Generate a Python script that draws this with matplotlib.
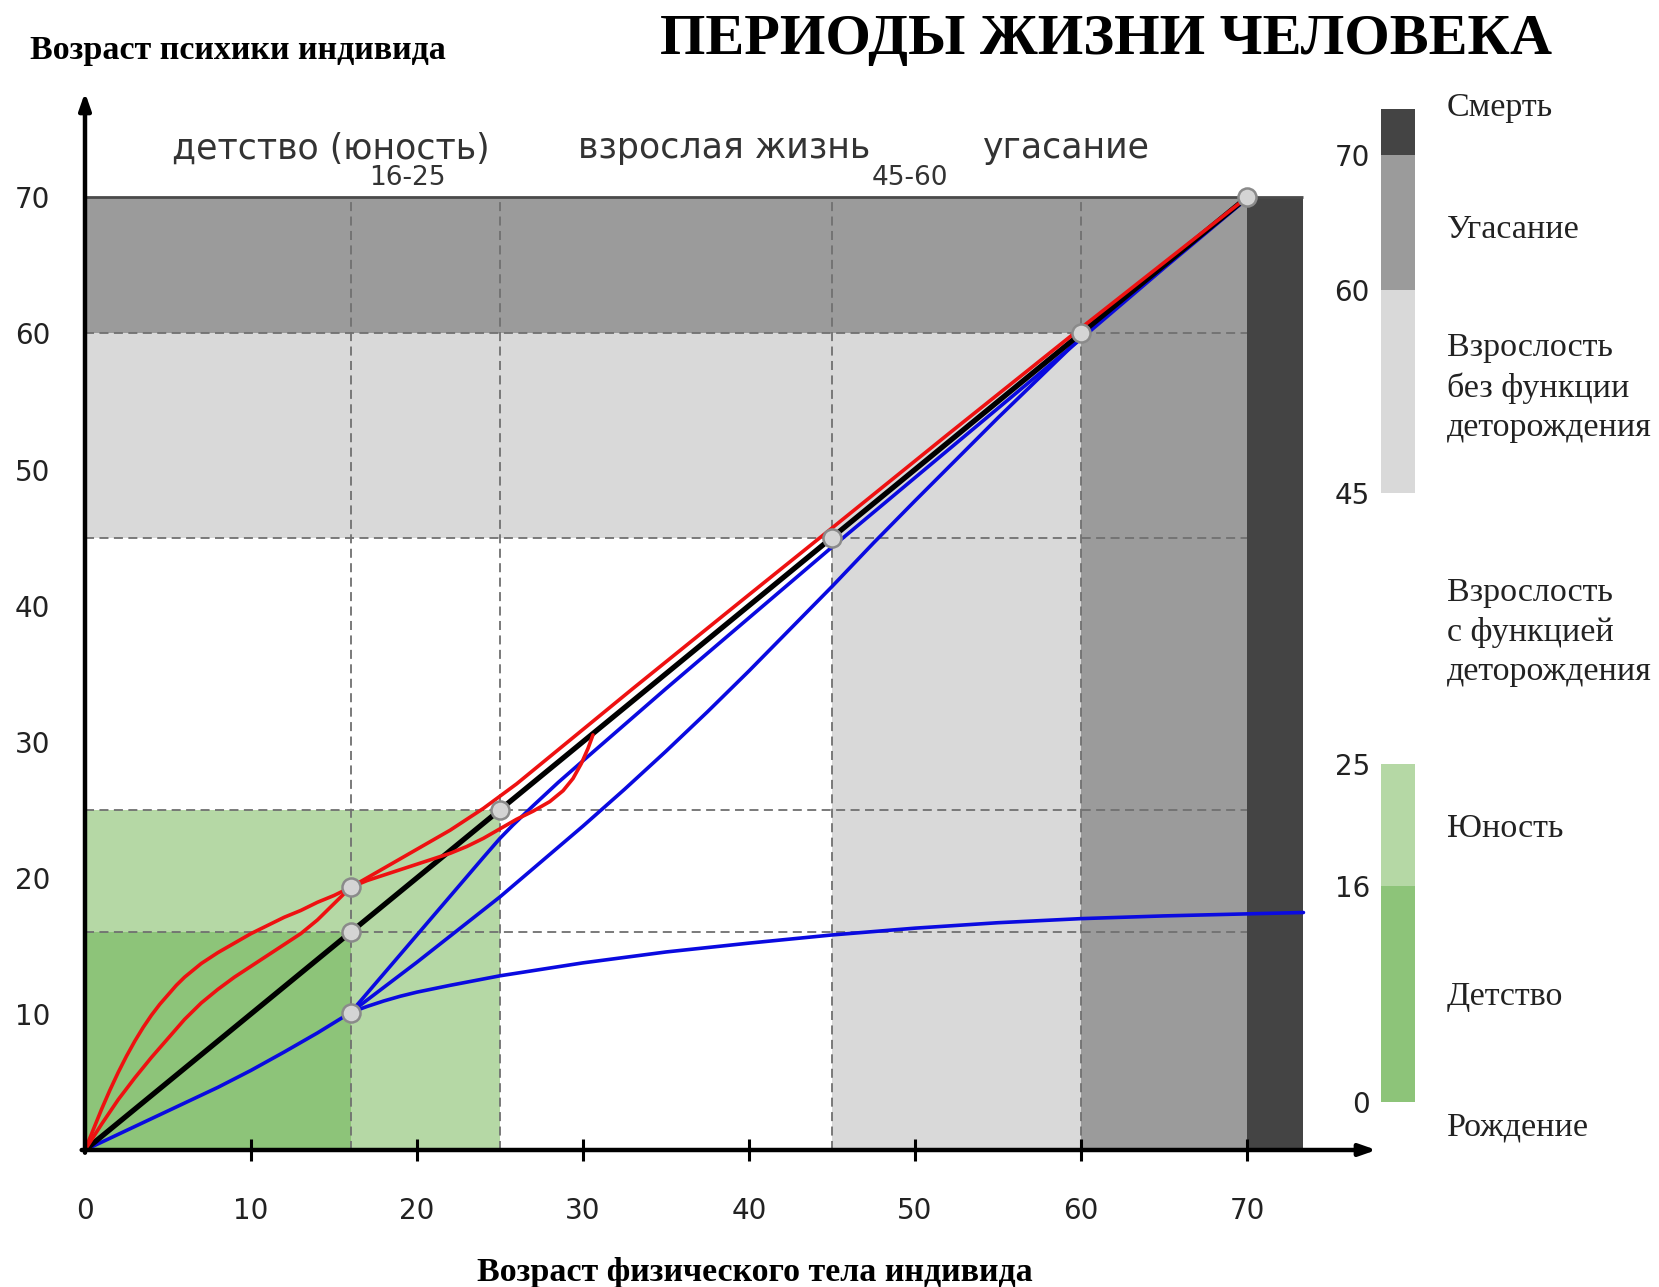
import matplotlib
matplotlib.use("Agg")
import matplotlib.pyplot as plt
from matplotlib.transforms import blended_transform_factory

# ---------------- data ----------------
zone_bounds = [0, 16, 25, 45, 60, 70]
zone_colors = ["#8dc479", "#b5d8a5", "#ffffff", "#d9d9d9", "#9b9b9b"]
death_start, death_end = 70, 73.4
death_color = "#444444"

grid_lines = [16, 25, 45, 60]

x_ticks = [0, 10, 20, 30, 40, 50, 60, 70]
y_ticks = [10, 20, 30, 40, 50, 60, 70]

black_x = [0, 70]
black_y = [0, 70]

red1_x = [0, 0.5, 1, 1.5, 2, 2.5, 3, 3.5, 4, 4.5, 5, 5.5, 6, 7, 8, 9, 10, 11, 12, 13, 14, 15, 16,
          17, 18, 19, 20, 21, 22, 23, 24, 25, 26, 27, 28, 30, 33, 40, 45, 52, 60, 70]
red1_y = [0, 1.5, 3.0, 4.4, 5.7, 6.9, 8.0, 9.0, 9.9, 10.7, 11.4, 12.1, 12.7, 13.7, 14.5, 15.2,
          15.9, 16.5, 17.1, 17.6, 18.2, 18.7, 19.3,
          20.0, 20.7, 21.4, 22.1, 22.8, 23.5, 24.3, 25.1, 26.0, 26.9, 27.9, 28.9, 30.9, 33.9,
          40.8, 45.7, 52.6, 60.4, 70]

red2_x = [0, 1, 2, 3, 4, 5, 6, 7, 8, 9, 10, 11, 12, 13, 14, 15, 16,
          17, 18, 19, 20, 21, 22, 23, 24, 25, 26, 27, 28, 28.8, 29.4, 29.9, 30.3, 30.6]
red2_y = [0, 1.9, 3.7, 5.3, 6.8, 8.2, 9.6, 10.8, 11.8, 12.7, 13.5, 14.3, 15.1, 15.9, 16.9,
          18.1, 19.3,
          19.8, 20.2, 20.6, 21.0, 21.4, 21.8, 22.3, 22.9, 23.6, 24.3, 24.9, 25.6, 26.4, 27.3,
          28.4, 29.5, 30.5]

blue_base_x = [0, 2, 4, 6, 8, 10, 12, 14, 16]
blue_base_y = [0, 1.15, 2.3, 3.45, 4.6, 5.85, 7.2, 8.6, 10.1]

blue_flat_x = [16, 17, 18, 19, 20, 22, 25, 30, 35, 40, 45, 50, 55, 60, 65, 70, 73.4]
blue_flat_y = [10.1, 10.55, 10.95, 11.3, 11.6, 12.1, 12.8, 13.75, 14.55, 15.2, 15.8, 16.3,
               16.7, 17.0, 17.2, 17.35, 17.45]

blue_steep_x = [16, 20, 24, 25, 25.8, 27, 28.5, 30, 35, 40, 45, 50, 55, 60, 65, 70]
blue_steep_y = [10.1, 15.8, 21.5, 22.9, 23.9, 25.3, 27.0, 28.6, 33.9, 39.1, 44.3, 49.4,
                54.5, 59.6, 64.8, 69.9]

blue_mid_x = [16, 18, 20, 22.5, 25, 27.5, 30, 32.5, 35, 37.5, 40, 42.5, 45, 47.5, 50, 55, 60]
blue_mid_y = [10.1, 11.95, 13.8, 16.2, 18.6, 21.2, 23.8, 26.5, 29.3, 32.2, 35.2, 38.3, 41.4,
              44.6, 47.7, 53.8, 59.7]

points_x = [16, 16, 16, 25, 45, 60, 70]
points_y = [19.3, 16, 10.1, 25, 45, 60, 70]

period_labels = ["детство (юность)", "взрослая жизнь", "угасание"]
period_x = [14.8, 38.5, 59.1]
period_sub = ["16-25", "45-60"]
period_sub_x = [19.4, 49.7]

bar_bounds = [0, 16, 25, 45, 60, 70, 73.4]
bar_colors = ["#8dc479", "#b5d8a5", "#ffffff", "#d9d9d9", "#9b9b9b", "#444444"]
bar_ticks = [0, 16, 25, 45, 60, 70]
bar_labels = ["Смерть", "Угасание", "Взрослость\nбез функции\nдеторождения",
              "Взрослость\nс функцией\nдеторождения", "Юность", "Детство", "Рождение"]
bar_label_y = [73.5, 64.5, 52.8, 34.7, 20.2, 7.8, -1.9]

title = "ПЕРИОДЫ ЖИЗНИ ЧЕЛОВЕКА"
ylabel = "Возраст психики индивида"
xlabel = "Возраст физического тела индивида"

# ---------------- figure ----------------
W, H = 1659, 1287
fig = plt.figure(figsize=(W / 100, H / 100), dpi=100)

x0px, xunit = 85, 16.6
y0px, yunit = 1150, 13.61
xmin, xmax = -5, 80
ymin, ymax = -6, 80
left = (x0px + xmin * xunit) / W
width = (xmax - xmin) * xunit / W
bottom = (H - (y0px - ymin * yunit)) / H
height = (ymax - ymin) * yunit / H
ax = fig.add_axes([left, bottom, width, height])
ax.set_xlim(xmin, xmax)
ax.set_ylim(ymin, ymax)
ax.patch.set_alpha(0)

# background zones (max(x, y) metric), outermost first
for i in range(len(zone_colors) - 1, -1, -1):
    b = zone_bounds[i + 1]
    ax.bar([0], [b], width=b, align="edge", color=zone_colors[i], zorder=0, linewidth=0)
ax.bar([death_start], [zone_bounds[-1]], width=death_end - death_start, align="edge",
       color=death_color, zorder=0, linewidth=0)
ax.hlines(zone_bounds[-1], 0, death_end, color="#4a4a4a", lw=2.0, zorder=0.5)

# dashed grid
for g in grid_lines:
    ax.plot([g, g], [0, zone_bounds[-1]], color="#707070", lw=1.3, ls=(0, (5, 3)), zorder=1)
    ax.plot([0, zone_bounds[-1]], [g, g], color="#707070", lw=1.3, ls=(0, (5, 3)), zorder=1)

# curves
blue = "#0a0ae0"
red = "#ee1111"
lwc = 2.6
for xs, ys in [(blue_base_x, blue_base_y), (blue_flat_x, blue_flat_y),
               (blue_steep_x, blue_steep_y), (blue_mid_x, blue_mid_y)]:
    ax.plot(xs, ys, color=blue, lw=lwc, zorder=3, solid_capstyle="round",
            solid_joinstyle="round")
ax.plot(black_x, black_y, color="black", lw=3.8, zorder=4, solid_capstyle="round")
for xs, ys in [(red1_x, red1_y), (red2_x, red2_y)]:
    ax.plot(xs, ys, color=red, lw=lwc, zorder=5, solid_capstyle="round",
            solid_joinstyle="round")
ax.plot(points_x, points_y, "o", ms=13, mfc="#d4d4d4", mec="#8a8a8a", mew=1.8, zorder=6)

# axes with arrows
for s in ax.spines.values():
    s.set_visible(False)
ax.spines["bottom"].set_position(("data", 0))
ax.spines["left"].set_position(("data", 0))
ax.annotate("", xy=(77.8, 0), xytext=(-0.2, 0),
            arrowprops=dict(arrowstyle="-|>,head_length=1.0,head_width=0.35",
                            color="black", lw=3.2, shrinkA=0, shrinkB=0), zorder=7)
ax.annotate("", xy=(0, 77.7), xytext=(0, -0.2),
            arrowprops=dict(arrowstyle="-|>,head_length=1.0,head_width=0.35",
                            color="black", lw=3.2, shrinkA=0, shrinkB=0), zorder=7)

ax.set_xticks(x_ticks)
ax.set_xticklabels([str(t) for t in x_ticks])
ax.set_yticks(y_ticks)
ax.set_yticklabels([str(t) for t in y_ticks])
ax.tick_params(axis="x", direction="inout", length=16, width=2.2, pad=26,
               labelsize=20, colors="black")
ax.xaxis.get_major_ticks()[0].tick1line.set_visible(False)
ax.tick_params(axis="y", length=0, pad=25, labelsize=20)
for lab in ax.get_xticklabels() + ax.get_yticklabels():
    lab.set_color("#222222")

# period labels
for lab, x in zip(period_labels, period_x):
    ax.text(x, 73.6, lab, ha="center", va="center", fontsize=25, color="#333333",
            family="DejaVu Sans", clip_on=False)
for lab, x in zip(period_sub, period_sub_x):
    ax.text(x, 71.4, lab, ha="center", va="center", fontsize=19, color="#333333",
            family="DejaVu Sans", clip_on=False)

# titles
fig.text(1106 / W, 1 - 40 / H, title, ha="center", va="center", fontsize=42,
         fontweight="bold", family="Liberation Serif")
fig.text(30 / W, 1 - 50 / H, ylabel, ha="left", va="center", fontsize=24.5,
         fontweight="bold", family="Liberation Serif")
fig.text(755 / W, 1 - 1272 / H, xlabel, ha="center", va="center", fontsize=24.5,
         fontweight="bold", family="Liberation Serif")

# right legend bar
bl, bw = 1381, 34
b0, btop = 1102, 109
ax2 = fig.add_axes([bl / W, (H - b0) / H, bw / W, (b0 - btop) / H])
ax2.set_xlim(0, 1)
ax2.set_ylim(bar_bounds[0], bar_bounds[-1])
for i, c in enumerate(bar_colors):
    ax2.bar([0], [bar_bounds[i + 1] - bar_bounds[i]], bottom=bar_bounds[i], width=1,
            align="edge", color=c, linewidth=0)
for s in ax2.spines.values():
    s.set_visible(False)
ax2.set_xticks([])
ax2.set_yticks(bar_ticks)
ax2.set_yticklabels([str(t) for t in bar_ticks])
ax2.tick_params(axis="y", length=0, pad=8, labelsize=20, labelcolor="#222222")
tr = blended_transform_factory(ax2.transAxes, ax2.transData)
for lab, y in zip(bar_labels, bar_label_y):
    ax2.text(1.94, y, lab, transform=tr, ha="left", va="center", fontsize=24.5,
             family="Liberation Serif", color="#222222", linespacing=1.37, clip_on=False)

fig.savefig("out.png", dpi=100)
